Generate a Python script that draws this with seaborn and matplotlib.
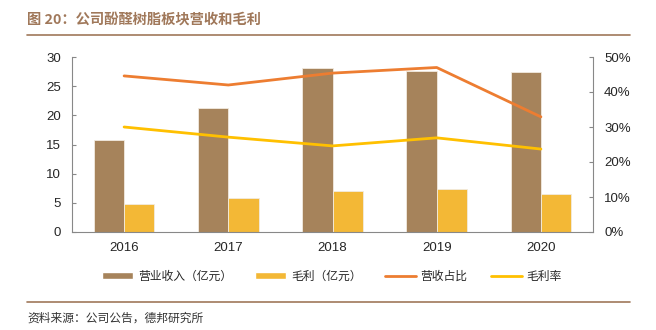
import matplotlib
matplotlib.use("Agg")
import matplotlib.pyplot as plt
import seaborn as sns
import pandas as pd
from matplotlib.patches import Patch
from matplotlib.lines import Line2D
from matplotlib.ticker import FuncFormatter, FixedLocator

years = ["2016", "2017", "2018", "2019", "2020"]
revenue = [15.8, 21.2, 28.1, 27.6, 27.4]
gross_profit = [4.8, 5.75, 6.95, 7.45, 6.5]
revenue_share = [44.6, 42.0, 45.4, 47.0, 32.9]
gross_margin = [30.0, 27.1, 24.6, 26.9, 23.7]

bar_names = ["营业收入（亿元）", "毛利（亿元）"]
line_names = ["营收占比", "毛利率"]
title = "图 20：公司酚醛树脂板块营收和毛利"
source = "资料来源：公司公告，德邦研究所"

c_brown = "#A6835B"
c_yellow = "#F3B836"
c_orange = "#ED7D31"
c_gold = "#FFC000"
c_title = "#A0785A"

sns.set_style("white")
plt.rcParams['font.family'] = ['Liberation Sans', 'Noto Sans CJK SC', 'DejaVu Sans']

df = pd.DataFrame({
    "year": years * 2,
    "value": revenue + gross_profit,
    "series": [bar_names[0]] * len(years) + [bar_names[1]] * len(years),
})

fig = plt.figure(figsize=(6.56, 3.30), dpi=100)
ax = fig.add_axes([72/656, 1-232/330, (593-72)/656, (232-57)/330])

sns.barplot(data=df, x="year", y="value", hue="series", palette=[c_brown, c_yellow],
            width=0.58, ax=ax, legend=False, edgecolor="#f2ebe0", linewidth=0.6, saturation=1)
ax.set_ylim(0, 30)
ax.set_xlim(-0.5, len(years) - 0.5)
ax.set_yticks([0, 5, 10, 15, 20, 25, 30])
ax.set_xlabel("")
ax.set_ylabel("")

ax2 = ax.twinx()
xs = list(range(len(years)))
sns.lineplot(x=xs, y=revenue_share, color=c_orange, linewidth=2.0, ax=ax2)
sns.lineplot(x=xs, y=gross_margin, color=c_gold, linewidth=2.0, ax=ax2)
ax2.set_ylim(0, 50)
ax2.set_yticks([0, 10, 20, 30, 40, 50])
ax2.yaxis.set_major_formatter(FuncFormatter(lambda v, p: f"{int(v)}%"))
ax.set_xlim(-0.5, len(years) - 0.5)

for a in (ax, ax2):
    a.spines["top"].set_visible(False)
    for s in a.spines.values():
        s.set_color("#888888")
        s.set_linewidth(0.8)
ax.spines["right"].set_visible(False)
ax2.spines["left"].set_visible(False)
ax2.spines["bottom"].set_visible(False)

ax.tick_params(axis="y", direction="in", length=3, color="#888888", labelsize=9.5, pad=8)
ax2.tick_params(axis="y", direction="in", length=3, color="#888888", labelsize=9.5, pad=8)
ax.tick_params(axis="x", which="major", length=0, labelsize=9.5, pad=7)
ax.xaxis.set_minor_locator(FixedLocator([0.5, 1.5, 2.5, 3.5]))
ax.tick_params(axis="x", which="minor", direction="in", length=3, color="#888888")

handles = [
    Patch(facecolor=c_brown, label=bar_names[0]),
    Patch(facecolor=c_yellow, label=bar_names[1]),
    Line2D([0], [0], color=c_orange, lw=2, label=line_names[0]),
    Line2D([0], [0], color=c_gold, lw=2, label=line_names[1]),
]
fig.legend(handles=handles, loc="center", bbox_to_anchor=(332/656, 1-276/330), ncol=4,
           frameon=False, prop={"family": ["Noto Sans CJK SC", "DejaVu Sans"], "size": 8.5},
           handlelength=2.6, handleheight=0.6, columnspacing=2.0, handletextpad=0.4)

fig.text(27/656, 1-20/330, title, color=c_title, fontsize=10.3, fontweight="bold",
         family=["Noto Sans CJK SC", "DejaVu Sans"], va="center", ha="left")
fig.add_artist(Line2D([27/656, 630/656], [1-35/330, 1-35/330], color=c_title, lw=1.2))
fig.add_artist(Line2D([27/656, 630/656], [1-302/330, 1-302/330], color=c_title, lw=1.2))
fig.text(27/656, 1-318/330, source, color="#333333", fontsize=8.5,
         family=["Noto Sans CJK SC", "DejaVu Sans"], va="center", ha="left")

fig.savefig("out.png", dpi=100)
